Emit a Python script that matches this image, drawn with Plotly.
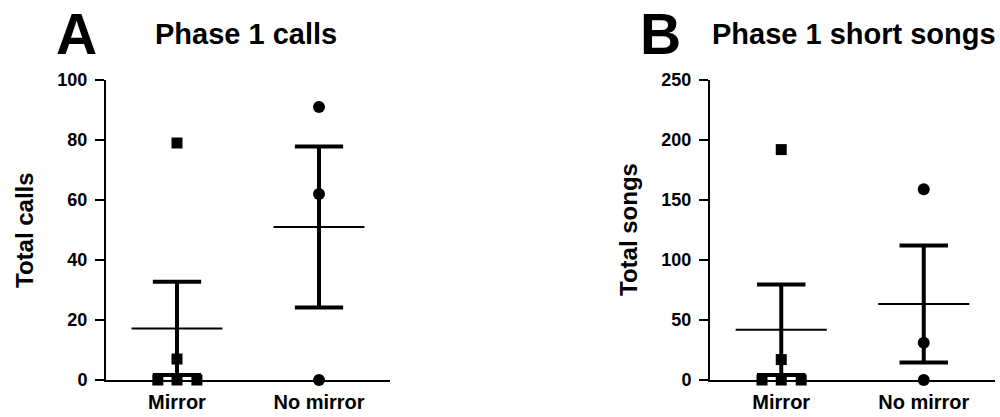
import numpy as np
import plotly.graph_objects as go

# ---------------- data ----------------
categories = ["Mirror", "No mirror"]
calls_mirror = [79, 7, 0, 0, 0]
calls_no_mirror = [91, 62, 0]
songs_mirror = [192, 17, 0, 0, 0]
songs_no_mirror = [159, 31, 0]
calls_ticks = [0, 20, 40, 60, 80, 100]
songs_ticks = [0, 50, 100, 150, 200, 250]
panel_titles = ["Phase 1 calls", "Phase 1 short songs"]
panel_letters = ["A", "B"]
y_titles = ["Total calls", "Total songs"]

# horizontal spread of overlapping points (style only)
mirror_offsets = [0, 0, -0.135, 0, 0.14]
no_mirror_offsets = [0, 0, 0]

FONT = "Liberation Sans, Arial, sans-serif"
W, H = 1000, 417

fig = go.Figure()


def px_x(p):
    return p / W


def px_y(p):
    return 1 - p / H


y_dom = [px_y(380), px_y(80)]
x_doms = [[px_x(106), px_x(390)], [px_x(710), px_x(995)]]


def add_panel(idx, mirror_vals, nomirror_vals, ticks):
    xa = "x" if idx == 0 else "x2"
    ya = "y" if idx == 0 else "y2"
    groups = [
        (1, mirror_vals, mirror_offsets, "square", 11),
        (2, nomirror_vals, no_mirror_offsets, "circle", 12),
    ]
    for c, vals, offs, sym, size in groups:
        arr = np.array(vals, dtype=float)
        m = arr.mean()
        sem = arr.std(ddof=1) / np.sqrt(len(arr))
        lo, hi = m - sem, m + sem
        # mean line
        fig.add_trace(go.Scatter(
            x=[c - 0.32, c + 0.32], y=[m, m], mode="lines",
            line=dict(color="black", width=2), xaxis=xa, yaxis=ya,
            showlegend=False, cliponaxis=False, hoverinfo="skip"))
        # SEM error bar
        cw = 0.17
        fig.add_trace(go.Scatter(
            x=[c - cw, c + cw, None, c, c, None, c - cw, c + cw],
            y=[lo, lo, None, lo, hi, None, hi, hi], mode="lines",
            line=dict(color="black", width=4), xaxis=xa, yaxis=ya,
            showlegend=False, cliponaxis=False, hoverinfo="skip"))
        # points
        fig.add_trace(go.Scatter(
            x=[c + o for o in offs], y=vals, mode="markers",
            marker=dict(symbol=sym, size=size, color="black"),
            xaxis=xa, yaxis=ya, showlegend=False, cliponaxis=False))

    xkey = "xaxis" if idx == 0 else "xaxis2"
    ykey = "yaxis" if idx == 0 else "yaxis2"
    fig.update_layout(**{
        xkey: dict(domain=x_doms[idx], range=[0.5, 2.5], tickvals=[1, 2],
                   ticktext=categories, showline=True, linecolor="black",
                   linewidth=2, ticks="", showgrid=False, zeroline=False,
                   anchor=ya, ticklabelstandoff=3, automargin=False,
                   tickfont=dict(family=FONT, size=20, color="black", weight="bold")),
        ykey: dict(domain=y_dom, range=[0, ticks[-1]], tickvals=ticks,
                   showline=True, linecolor="black", linewidth=2,
                   ticks="outside", ticklen=9, tickwidth=2, tickcolor="black",
                   showgrid=False, zeroline=False, anchor=xa,
                   ticklabelstandoff=4, automargin=False,
                   tickfont=dict(family=FONT, size=18, color="black", weight="bold")),
    })


add_panel(0, calls_mirror, calls_no_mirror, calls_ticks)
add_panel(1, songs_mirror, songs_no_mirror, songs_ticks)

ann = []
# panel letters
for letter, xc in zip(panel_letters, [76, 660]):
    ann.append(dict(text=letter, x=px_x(xc), y=px_y(34), xref="paper", yref="paper",
                    xanchor="center", yanchor="middle", showarrow=False,
                    font=dict(family=FONT, size=57, color="black", weight="bold")))
# panel titles
for t, xc in zip(panel_titles, [246, 854]):
    ann.append(dict(text=t, x=px_x(xc), y=px_y(34), xref="paper", yref="paper",
                    xanchor="center", yanchor="middle", showarrow=False,
                    font=dict(family=FONT, size=29, color="black", weight="bold")))
# y-axis titles
for t, xc in zip(y_titles, [24, 628]):
    ann.append(dict(text=t, x=px_x(xc), y=px_y(230), xref="paper", yref="paper",
                    xanchor="center", yanchor="middle", showarrow=False, textangle=-90,
                    font=dict(family=FONT, size=24, color="black", weight="bold")))

fig.update_layout(
    width=W, height=H, margin=dict(l=0, r=0, t=0, b=0, pad=0, autoexpand=False),
    paper_bgcolor="white", plot_bgcolor="white",
    annotations=ann, showlegend=False,
)

fig.write_html("out.html", config={"displayModeBar": False},
               post_script="document.body.style.margin='0';document.body.style.overflow='hidden';")
